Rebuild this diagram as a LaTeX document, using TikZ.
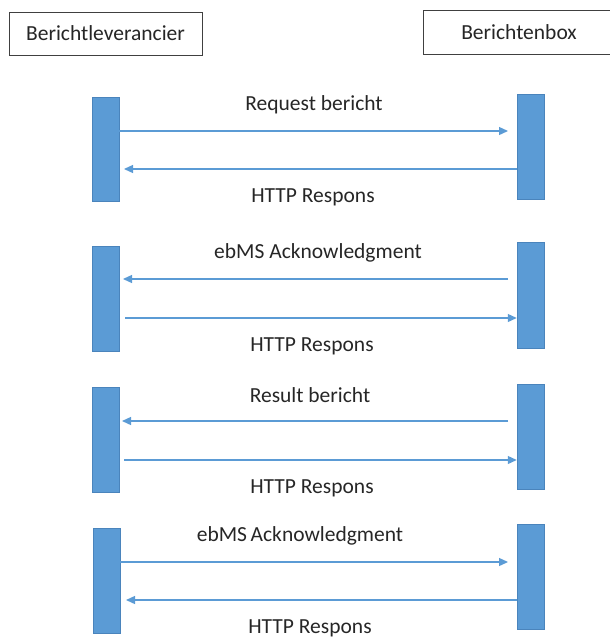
\documentclass[tikz,border=0pt]{standalone}
\usepackage{fontspec}
\setmainfont{Carlito}
\usetikzlibrary{arrows.meta}
\definecolor{barblue}{HTML}{5B9BD5}
\definecolor{baredge}{HTML}{4A84BC}
\begin{document}
\begin{tikzpicture}[x=1pt,y=-1pt,
  actor/.style={draw=black!75, line width=0.9pt, fill=white, inner sep=0pt},
  bar/.style={fill=barblue, draw=baredge, line width=0.5pt, inner sep=0pt, minimum width=27pt},
  msg/.style={draw=barblue, line width=1.3pt, -{Triangle[length=9pt,width=8pt]}},
  lbl/.style={font=\fontsize{21.5}{24}\selectfont, text=black!85, inner sep=0pt}]
\useasboundingbox (0,0) rectangle (610,637);
% actors
\node[actor, minimum width=193pt, minimum height=43pt] (A) at (105.5,33.5) {};
\node[lbl] at (A.center) {Berichtleverancier};
\draw[black!75, line width=0.9pt, fill=white] (614,10) -- (423,10) -- (423,54) -- (614,54);
\node[lbl] (B) at (519,32) {Berichtenbox};
% group 1
\node[bar, minimum height=104pt] (L1) at (105.5,149.5) {};
\node[bar, minimum height=105pt] (R1) at (530.5,146.5) {};
\coordinate (l1a) at (L1.east |- 0,131); \coordinate (r1a) at (508,131);
\coordinate (r1b) at (R1.west |- 0,169); \coordinate (l1b) at (124,169);
\draw[msg] (l1a) -- (r1a);
\draw[msg] (r1b) -- (l1b);
\node[lbl] at (314,105) {Request bericht};
\node[lbl] at (313,197) {HTTP Respons};
% group 2
\node[bar, minimum height=105pt] (L2) at (106,298.5) {};
\node[bar, minimum height=106pt] (R2) at (530.5,295) {};
\coordinate (r2a) at (508,279); \coordinate (l2a) at (123,279);
\coordinate (l2b) at (125,318); \coordinate (r2b) at (R2.west |- 0,318);
\draw[msg] (r2a) -- (l2a);
\draw[msg] (l2b) -- (r2b);
\node[lbl] at (318,253) {ebMS Acknowledgment};
\node[lbl] at (312,346) {HTTP Respons};
% group 3
\node[bar, minimum height=105pt] (L3) at (105.5,439.5) {};
\node[bar, minimum height=105pt] (R3) at (530.5,436.5) {};
\coordinate (r3a) at (508,421); \coordinate (l3a) at (122,421);
\coordinate (l3b) at (124,460); \coordinate (r3b) at (R3.west |- 0,460);
\draw[msg] (r3a) -- (l3a);
\draw[msg] (l3b) -- (r3b);
\node[lbl] at (310,395) {Result bericht};
\node[lbl] at (312,488) {HTTP Respons};
% group 4
\node[bar, minimum height=105pt] (L4) at (106.5,581) {};
\node[bar, minimum height=105pt] (R4) at (530.5,576.5) {};
\coordinate (l4a) at (L4.east |- 0,562); \coordinate (r4a) at (508,562);
\coordinate (r4b) at (R4.west |- 0,600); \coordinate (l4b) at (126,600);
\draw[msg] (l4a) -- (r4a);
\draw[msg] (r4b) -- (l4b);
\node[lbl] at (300,536) {ebMS\,Acknowledgment};
\node[lbl] at (310,628) {HTTP Respons};
\end{tikzpicture}
\end{document}
